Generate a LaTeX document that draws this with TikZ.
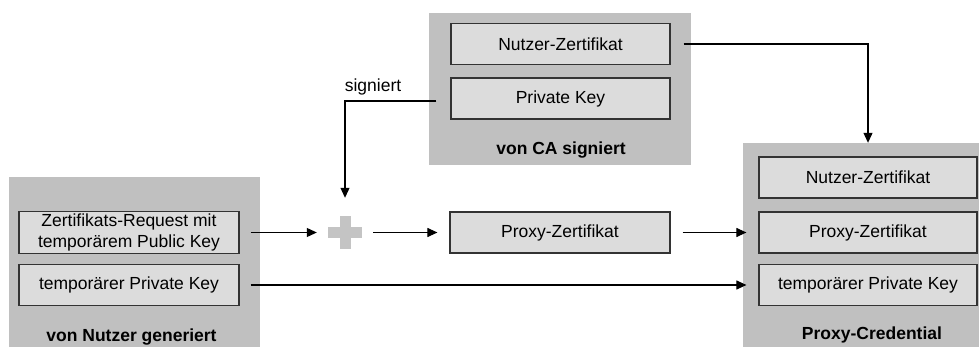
\documentclass[tikz,border=0pt]{standalone}
\usepackage{fontspec}
\setmainfont{Liberation Sans}
\usetikzlibrary{arrows.meta}
\definecolor{contgray}{HTML}{C0C0C0}
\definecolor{boxgray}{HTML}{DCDCDC}
\definecolor{boxline}{HTML}{333333}
\definecolor{plusgray}{HTML}{C4C4C4}
\begin{document}
\begin{tikzpicture}[x=1pt,y=-1pt,
  font=\fontsize{17.5}{21}\selectfont,
  cont/.style={fill=contgray,inner sep=0pt},
  ibox/.style={draw=boxline,fill=boxgray,line width=1.2pt,minimum width=219pt,minimum height=41pt,inner sep=0pt,align=center},
  lbl/.style={font=\fontsize{17.5}{21}\selectfont\bfseries,inner sep=0pt},
  arr/.style={line width=1.1pt,-{Triangle[length=10pt,width=9pt]}}]
\useasboundingbox (0,0) rectangle (979,347);
% containers
\node[cont,minimum width=251pt,minimum height=170pt] (cnutzer) at (134.5,262) {};
\node[cont,minimum width=262pt,minimum height=152pt] (cca) at (560,89) {};
\node[cont,minimum width=236pt,minimum height=204pt] (cproxy) at (861,245) {};
% inner boxes
\node[ibox,minimum width=220pt,minimum height=42pt] (n1) at (129,232.5) {Zertifikats-Request mit\\temporärem Public Key};
\node[ibox,minimum width=220pt] (n2) at (129,285) {temporärer Private Key};
\node[ibox] (ca1) at (560.5,44) {Nutzer-Zertifikat};
\node[ibox] (ca2) at (560.5,98.5) {Private Key};
\node[ibox,minimum width=220pt] (proxy) at (560,232.5) {Proxy-Zertifikat};
\node[ibox,minimum width=218pt] (r1) at (868,177.5) {Nutzer-Zertifikat};
\node[ibox,minimum width=218pt] (r2) at (868,232.5) {Proxy-Zertifikat};
\node[ibox,minimum width=218pt] (r3) at (868,285) {temporärer Private Key};
% container labels
\node[lbl] (lnutzer) at (131.5,337) {von Nutzer generiert};
\node[lbl] (lca) at (561,150) {von CA signiert};
\node[lbl] (lproxy) at (872,335) {Proxy-Credential};
\node[inner sep=0pt] (sig) at (373,87) {signiert};
% plus
\node[minimum width=34pt,minimum height=33pt,inner sep=0pt] (plus) at (345,232.5) {};
\fill[plusgray] ([shift={(-17,-5.5)}]plus.center) rectangle ([shift={(17,5.5)}]plus.center);
\fill[plusgray] ([shift={(-5.5,-16.5)}]plus.center) rectangle ([shift={(5.5,16.5)}]plus.center);
% connectors
\draw[arr] ([xshift=11pt]n1.east) -- ([xshift=-11pt]plus.west);
\draw[arr] ([xshift=11pt]plus.east) -- ([xshift=-12pt]proxy.west);
\draw[arr] ([xshift=12pt]proxy.east) -- ([xshift=-12pt]r2.west);
\draw[arr] ([xshift=11pt]n2.east) -- ([xshift=-12pt]r3.west);
\draw[arr] ([xshift=13pt]ca1.east) -| (cproxy.north -| r1.north);
\draw[arr] ([xshift=-14pt,yshift=-2.5pt]ca2.west) -| ([yshift=18pt]plus.north);
\end{tikzpicture}
\end{document}
